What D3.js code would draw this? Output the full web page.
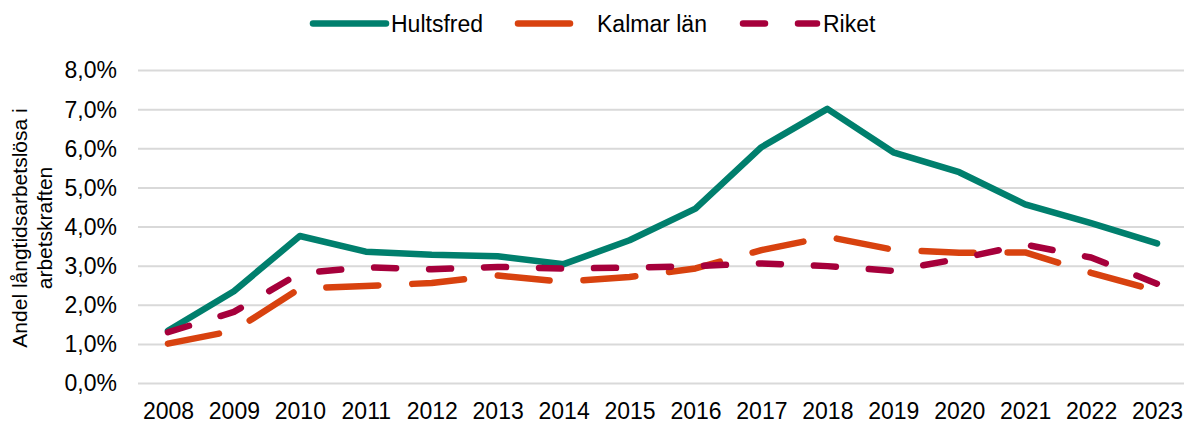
<!DOCTYPE html>
<html>
<head>
<meta charset="utf-8">
<script src="https://cdn.jsdelivr.net/npm/d3@7"></script>
<style>
  body { margin: 0; background: #fff; }
  svg text { font-family: "Liberation Sans", Arial, sans-serif; fill: #000; }
</style>
</head>
<body>
<div id="chart"></div>
<script>
// Andel långtidsarbetslösa i arbetskraften, 2008-2023
var years = ["2008","2009","2010","2011","2012","2013","2014","2015","2016","2017","2018","2019","2020","2021","2022","2023"];
var hultsfred = [1.35, 2.36, 3.77, 3.37, 3.29, 3.25, 3.05, 3.66, 4.47, 6.04, 7.02, 5.91, 5.40, 4.58, 4.10, 3.58];
var kalmar    = [1.02, 1.35, 2.43, 2.49, 2.57, 2.76, 2.60, 2.72, 2.94, 3.41, 3.75, 3.42, 3.34, 3.35, 2.83, 2.37];
var riket     = [1.31, 1.83, 2.82, 2.97, 2.92, 2.98, 2.94, 2.96, 3.00, 3.07, 3.00, 2.88, 3.19, 3.55, 3.22, 2.55];
var yTicks = [0, 1, 2, 3, 4, 5, 6, 7, 8];
var seriesNames = ["Hultsfred", "Kalmar län", "Riket"];

var series = [
    { name: seriesNames[0], values: hultsfred, color: "#007f6d", dash: null },
    { name: seriesNames[1], values: kalmar,    color: "#d8420f", dash: "52,34" },
    { name: seriesNames[2], values: riket,     color: "#a6003b", dash: "22,33" }
];

var width = 1186, height = 423;
var plotLeft = 138, plotRight = 1184, plotTop = 70.5, plotBottom = 383.5;

var svg = d3.select( "#chart" ).append( "svg" )
    .attr( "width", width )
    .attr( "height", height );

var x = d3.scalePoint().domain( years ).range( [ 135, 1190 ] ).padding( 0.5 );
var y = d3.scaleLinear().domain( [ 0, 8 ] ).range( [ plotBottom, plotTop ] );

var sv = d3.formatLocale( { decimal: ",", thousands: " ", grouping: [3], currency: ["", " kr"] } );
var fmt = sv.format( ".1f" );

// gridlines
svg.append( "g" ).selectAll( "line" )
    .data( yTicks )
    .enter().append( "line" )
    .attr( "x1", plotLeft )
    .attr( "x2", plotRight )
    .attr( "y1", function( d ) { return y( d ); } )
    .attr( "y2", function( d ) { return y( d ); } )
    .style( "stroke", "#d9d9d9" )
    .style( "stroke-width", 2 );

// y axis labels
var yAxis = svg.append( "g" )
    .attr( "transform", "translate(" + (plotLeft - 4) + ",0)" )
    .call( d3.axisLeft( y ).tickValues( yTicks ).tickSize( 0 ).tickPadding( 17 )
        .tickFormat( function( d ) { return fmt( d ) + "%"; } ) );
yAxis.select( ".domain" ).remove();
yAxis.selectAll( "text" ).style( "font-size", "23px" );

// x axis labels
var xAxis = svg.append( "g" )
    .attr( "transform", "translate(0," + plotBottom + ")" )
    .call( d3.axisBottom( x ).tickSize( 0 ).tickPadding( 19 ) );
xAxis.select( ".domain" ).remove();
xAxis.selectAll( "text" ).style( "font-size", "23px" );

// y axis title
var title = svg.append( "text" )
    .attr( "transform", "translate(20," + ((plotTop + plotBottom) / 2 + 1) + ") rotate(-90)" )
    .style( "text-anchor", "middle" )
    .style( "font-size", "21px" );
title.append( "tspan" ).attr( "x", 0 ).attr( "dy", "0.35em" ).text( "Andel långtidsarbetslösa i" );
title.append( "tspan" ).attr( "x", 0 ).attr( "dy", "1.15em" ).text( "arbetskraften" );

// lines
var line = d3.line()
    .x( function( d, i ) { return x( years[i] ); } )
    .y( function( d ) { return y( d ); } );

series.forEach( function( s ) {
    svg.append( "path" )
        .datum( s.values )
        .attr( "d", line )
        .style( "fill", "none" )
        .style( "stroke", s.color )
        .style( "stroke-width", 6.5 )
        .style( "stroke-linejoin", "round" )
        .style( "stroke-linecap", "round" )
        .style( "stroke-dasharray", s.dash );
});

// legend
var legendPos = [ { x1: 313, x2: 386, tx: 391 }, { x1: 518, x2: 582, tx: 597 }, { x1: 743, x2: 817, tx: 823 } ];
var ly = 23.5;
series.forEach( function( s, i ) {
    var p = legendPos[i];
    svg.append( "line" )
        .attr( "x1", p.x1 ).attr( "x2", p.x2 )
        .attr( "y1", ly ).attr( "y2", ly )
        .style( "stroke", s.color )
        .style( "stroke-width", 6.5 )
        .style( "stroke-linecap", "round" )
        .style( "stroke-dasharray", s.dash );
    svg.append( "text" )
        .attr( "x", p.tx )
        .attr( "y", ly )
        .attr( "dy", "0.35em" )
        .style( "font-size", "23px" )
        .text( s.name );
});
</script>
</body>
</html>
